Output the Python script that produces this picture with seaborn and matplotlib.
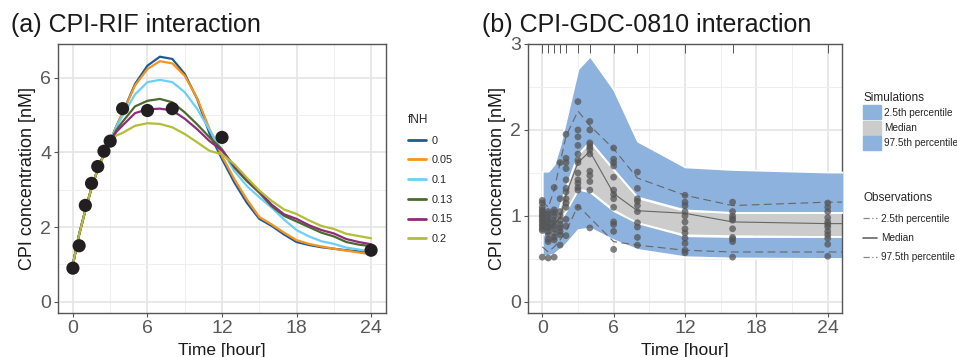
import numpy as np
import pandas as pd
import matplotlib
matplotlib.use("Agg")
import matplotlib.pyplot as plt
import matplotlib.ticker as mtick
from matplotlib.patches import Patch
from matplotlib.lines import Line2D
import seaborn as sns

# ---- panel (a): simulated CPI profiles for several fNH values ----
sim_time_a = [0, 0.5, 1, 1.5, 2, 2.5, 3, 3.5, 4, 5, 6, 7, 8, 9, 10, 11, 12,
              13, 14, 15, 16, 17, 18, 19, 20, 21, 22, 23, 24]
fnh_levels = ["0", "0.05", "0.1", "0.13", "0.15", "0.2"]
conc_fnh_0 = [1.0, 1.8, 2.45, 3.05, 3.55, 3.95, 4.3, 4.7, 5.05, 5.83, 6.32, 6.56, 6.5, 6.1,
              5.43, 4.5, 3.82, 3.19, 2.65, 2.22, 2.03, 1.8, 1.6, 1.52, 1.46, 1.42, 1.38, 1.35, 1.32]
conc_fnh_005 = [1.0, 1.8, 2.45, 3.05, 3.55, 3.95, 4.3, 4.7, 5.05, 5.79, 6.23, 6.44, 6.38, 6.05,
                5.45, 4.62, 3.9, 3.28, 2.74, 2.27, 2.07, 1.85, 1.65, 1.55, 1.48, 1.42, 1.37, 1.32, 1.27]
conc_fnh_01 = [1.0, 1.8, 2.45, 3.05, 3.55, 3.95, 4.3, 4.68, 4.98, 5.55, 5.88, 5.94, 5.88, 5.61,
               5.16, 4.6, 4.05, 3.5, 3.1, 2.8, 2.52, 2.2, 1.92, 1.75, 1.62, 1.55, 1.45, 1.4, 1.34]
conc_fnh_013 = [1.0, 1.8, 2.45, 3.05, 3.55, 3.95, 4.3, 4.6, 4.82, 5.23, 5.38, 5.43, 5.34, 5.07,
                4.75, 4.4, 4.08, 3.59, 3.23, 2.92, 2.56, 2.3, 2.15, 2.0, 1.85, 1.75, 1.6, 1.53, 1.49]
conc_fnh_015 = [1.0, 1.8, 2.45, 3.05, 3.55, 3.95, 4.28, 4.55, 4.72, 5.05, 5.15, 5.17, 5.12, 4.9,
                4.62, 4.3, 4.05, 3.63, 3.28, 2.95, 2.6, 2.34, 2.22, 2.05, 1.92, 1.83, 1.68, 1.6, 1.54]
conc_fnh_02 = [1.0, 1.8, 2.45, 3.05, 3.55, 3.93, 4.25, 4.45, 4.52, 4.71, 4.78, 4.76, 4.67, 4.49,
               4.27, 4.04, 3.95, 3.68, 3.32, 2.98, 2.7, 2.47, 2.35, 2.18, 2.03, 1.95, 1.82, 1.76, 1.7]
obs_time_a = [0, 0.5, 1, 1.5, 2, 2.5, 3, 4, 6, 8, 12, 24]
obs_conc_a = [0.9, 1.5, 2.58, 3.17, 3.62, 4.03, 4.3, 5.17, 5.12, 5.17, 4.4, 1.38]
fnh_colors = ["#1f5a99", "#f7941d", "#6dcff6", "#4b6b2e", "#8e2c7c", "#b3bd38"]

# ---- panel (b): VPC for CPI-GDC-0810 ----
sim_time_b = [0, 0.5, 1, 1.5, 2, 3, 4, 6, 8, 12, 16, 24, 26]
p025_lo = [0.54, 0.54, 0.56, 0.62, 0.68, 0.84, 0.86, 0.72, 0.61, 0.525, 0.51, 0.505, 0.505]
p025_hi = [1.05, 1.05, 1.0, 0.95, 1.06, 1.31, 1.28, 1.06, 0.92, 0.77, 0.76, 0.76, 0.76]
p50_lo = [0.82, 0.78, 0.85, 0.96, 1.08, 1.32, 1.3, 1.08, 0.93, 0.79, 0.78, 0.77, 0.77]
p50_hi = [0.98, 0.95, 1.0, 1.12, 1.32, 1.7, 1.85, 1.52, 1.2, 1.05, 1.03, 1.03, 1.03]
p975_lo = [0.8, 0.75, 0.85, 1.13, 1.34, 1.72, 1.87, 1.54, 1.22, 1.07, 1.04, 1.04, 1.04]
p975_hi = [1.52, 1.52, 1.6, 1.83, 2.12, 2.71, 2.86, 2.47, 1.87, 1.57, 1.54, 1.51, 1.51]

obs_pct_time = [0, 0.5, 1, 1.5, 2, 3, 4, 6, 8, 12, 16, 24, 26]
obs_p025 = [0.64, 0.58, 0.64, 0.72, 0.82, 1.12, 0.98, 0.7, 0.66, 0.6, 0.58, 0.58, 0.58]
obs_p50 = [0.95, 0.88, 0.9, 0.98, 1.25, 1.62, 1.75, 1.26, 1.06, 1.03, 0.93, 0.91, 0.91]
obs_p975 = [1.17, 1.1, 1.3, 1.62, 1.93, 2.22, 2.05, 1.78, 1.44, 1.24, 1.12, 1.16, 1.16]

obs_points_b = {
    0: [0.52, 0.83, 0.85, 0.88, 0.9, 0.93, 0.95, 0.98, 1.0, 1.02, 1.05, 1.07, 1.1, 1.15, 1.18],
    0.5: [0.51, 0.7, 0.73, 0.78, 0.82, 0.86, 0.88, 0.92, 0.95, 0.98, 1.02, 1.05],
    1: [0.52, 0.72, 0.75, 0.8, 0.85, 0.88, 0.92, 0.95, 1.0, 1.04, 1.07, 1.33],
    1.5: [0.66, 0.78, 0.82, 0.86, 0.9, 0.95, 1.0, 1.05, 1.2, 1.62],
    2: [0.77, 0.88, 0.96, 1.1, 1.15, 1.2, 1.28, 1.32, 1.42, 1.55, 1.62, 1.67, 1.95],
    3: [1.1, 1.3, 1.33, 1.38, 1.42, 1.5, 1.62, 1.65, 1.72, 1.82, 1.92, 2.0, 2.33],
    4: [0.86, 1.3, 1.4, 1.47, 1.52, 1.72, 1.77, 1.8, 1.83, 1.85, 2.0, 2.1],
    6: [0.61, 0.82, 0.9, 0.93, 1.1, 1.2, 1.25, 1.3, 1.45, 1.58, 1.62, 1.66, 1.79],
    8: [0.66, 0.75, 0.87, 0.92, 1.05, 1.12, 1.17, 1.2, 1.32, 1.51],
    12: [0.57, 0.6, 0.68, 0.74, 0.8, 0.85, 0.93, 1.0, 1.05, 1.12, 1.16, 1.24],
    16: [0.52, 0.7, 0.73, 0.75, 0.85, 0.95, 0.97, 1.0, 1.05, 1.16],
    24: [0.53, 0.67, 0.74, 0.78, 0.82, 0.87, 0.9, 0.93, 0.98, 1.05, 1.1, 1.15],
}
rug_times = [0, 0.5, 1, 1.5, 2, 3, 4, 6, 8, 12, 16, 24]

band_blue = "#8db2de"
band_gray = "#cccccc"
obs_gray = "#666666"

sns.set_theme(style="whitegrid")
plt.rcParams['font.family'] = ['Liberation Sans', 'DejaVu Sans']


def style_axes(ax, ymajor, yminor):
    ax.set_xlim(-1.2, 25.2)
    ax.xaxis.set_major_locator(mtick.FixedLocator([0, 6, 12, 18, 24]))
    ax.xaxis.set_minor_locator(mtick.FixedLocator([3, 9, 15, 21]))
    ax.yaxis.set_major_locator(mtick.FixedLocator(ymajor))
    ax.yaxis.set_minor_locator(mtick.FixedLocator(yminor))
    ax.grid(which="major", color="#e6e6e6", linewidth=1.3)
    ax.grid(which="minor", color="#efefef", linewidth=0.7)
    ax.set_axisbelow(True)
    for s in ax.spines.values():
        s.set_color("#555555")
        s.set_linewidth(1.0)
    ax.tick_params(axis="both", which="major", labelsize=14, labelcolor="#595959",
                   color="#555555", length=3, width=0.8, pad=2, bottom=True, left=True)
    ax.tick_params(axis="both", which="minor", length=0)
    ax.set_xlabel("Time [hour]", fontsize=12.5, color="#1a1a1a", labelpad=4)
    ax.set_ylabel("CPI concentration [nM]", fontsize=13, color="#1a1a1a", labelpad=3)


fig = plt.figure(figsize=(9.57, 3.57), dpi=100)
ax_a = fig.add_axes([58 / 957, 44 / 357, 328 / 957, 269 / 357])
ax_b = fig.add_axes([528 / 957, 44 / 357, 314 / 957, 269 / 357])

# panel (a)
series = [conc_fnh_0, conc_fnh_005, conc_fnh_01, conc_fnh_013, conc_fnh_015, conc_fnh_02]
df_a = pd.concat([pd.DataFrame({"time": sim_time_a, "conc": vals, "fNH": lvl})
                  for lvl, vals in zip(fnh_levels, series)], ignore_index=True)
sns.lineplot(data=df_a, x="time", y="conc", hue="fNH", hue_order=fnh_levels,
             palette=fnh_colors, linewidth=1.6, ax=ax_a, legend=False)
sns.scatterplot(x=obs_time_a, y=obs_conc_a, color="#231f20", s=90, edgecolor="none",
                ax=ax_a, zorder=5)
ax_a.set_ylim(-0.3, 6.9)
style_axes(ax_a, [0, 2, 4, 6], [1, 3, 5])

handles_a = [Line2D([0], [0], color=c, lw=2) for c in fnh_colors]
fig.legend(handles_a, fnh_levels, title="fNH", loc="upper left",
           bbox_to_anchor=(398 / 957, 1 - 104 / 357), frameon=False, fontsize=7.8,
           title_fontsize=8.5, handlelength=1.7, handletextpad=0.5, labelspacing=0.9,
           alignment="left")

# panel (b)
ax_b.fill_between(sim_time_b, p50_lo, p50_hi, color=band_gray, linewidth=0, zorder=1)
ax_b.fill_between(sim_time_b, p025_lo, p025_hi, facecolor=band_blue, edgecolor="white",
                  linewidth=1.3, zorder=2)
ax_b.fill_between(sim_time_b, p975_lo, p975_hi, facecolor=band_blue, edgecolor="white",
                  linewidth=1.3, zorder=3)

df_obs = pd.DataFrame({"time": obs_pct_time * 3,
                       "conc": obs_p025 + obs_p50 + obs_p975,
                       "pct": ["p025"] * len(obs_p025) + ["p50"] * len(obs_p50) + ["p975"] * len(obs_p975)})
sns.lineplot(data=df_obs, x="time", y="conc", style="pct",
             dashes={"p025": (7, 4), "p50": "", "p975": (7, 4)},
             color=obs_gray, linewidth=0.8, ax=ax_b, legend=False, zorder=4)

pts = pd.DataFrame([(t, v) for t, vals in obs_points_b.items() for v in vals],
                   columns=["time", "conc"])
sns.scatterplot(data=pts, x="time", y="conc", color="#555555", alpha=0.75, s=24,
                edgecolor="none", ax=ax_b, zorder=5)
ax_b.vlines(rug_times, 0.965, 1.0, transform=ax_b.get_xaxis_transform(),
            color="#555555", linewidth=0.7, zorder=6)
ax_b.set_ylim(-0.13, 3.0)
style_axes(ax_b, [0, 1, 2, 3], [0.5, 1.5, 2.5])

sim_handles = [Patch(color=band_blue), Patch(color=band_gray), Patch(color=band_blue)]
fig.legend(sim_handles, ["2.5th percentile", "Median", "97.5th percentile"],
           title="Simulations", loc="upper left",
           bbox_to_anchor=(856 / 957, 1 - 85 / 357), frameon=False, fontsize=7.2,
           title_fontsize=8.5, handlelength=1.8, handleheight=1.8,
           handletextpad=0.35, labelspacing=0.12, alignment="left", borderaxespad=0.3)
obs_handles = [Line2D([0], [0], color="#888888", lw=0.9, dashes=(5, 2, 1, 2)),
               Line2D([0], [0], color="#666666", lw=1.2),
               Line2D([0], [0], color="#888888", lw=0.9, dashes=(5, 2, 1, 2))]
fig.legend(obs_handles, ["2.5th percentile", "Median", "97.5th percentile"],
           title="Observations", loc="upper left",
           bbox_to_anchor=(856 / 957, 1 - 185 / 357), frameon=False, fontsize=7.2,
           title_fontsize=8.5, handlelength=1.4, handletextpad=0.4,
           labelspacing=0.95, alignment="left", borderaxespad=0.3)

fig.text(11 / 957, 1 - 32 / 357, "(a) CPI-RIF interaction", fontsize=18,
         color="#1a1a1a", va="baseline", ha="left")
fig.text(482 / 957, 1 - 32 / 357, "(b) CPI-GDC-0810 interaction", fontsize=18,
         color="#1a1a1a", va="baseline", ha="left")

fig.savefig("out.png", dpi=100)
